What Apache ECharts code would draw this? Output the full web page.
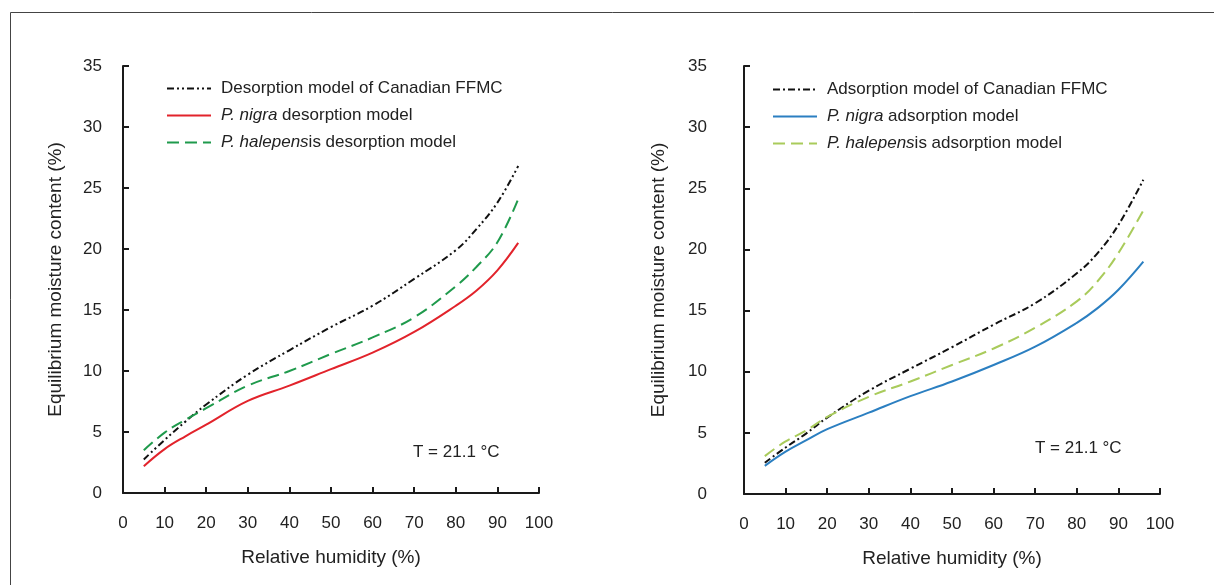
<!DOCTYPE html>
<html><head><meta charset="utf-8">
<script src="https://cdn.jsdelivr.net/npm/echarts@6/dist/echarts.min.js"></script>
<style>html,body{margin:0;padding:0;background:#fff}#c{width:1214px;height:585px}</style>
</head><body><div id="c"></div>
<script>
// Relative humidity (%) sample points
const rhDes = [5, 10, 15, 20, 30, 40, 50, 60, 70, 80, 85, 90, 95];
const rhAds = [5, 10, 15, 20, 30, 40, 50, 60, 70, 80, 85, 90, 96];
// Desorption (left panel)
const desFFMC = [2.75, 4.35, 5.85, 7.25, 9.7, 11.7, 13.6, 15.35, 17.55, 19.9, 21.65, 23.8, 26.8];
const desNigra = [2.2, 3.6, 4.65, 5.6, 7.55, 8.8, 10.15, 11.5, 13.2, 15.35, 16.6, 18.25, 20.5];
const desHalep = [3.5, 4.95, 6.0, 6.95, 8.8, 10.0, 11.4, 12.75, 14.4, 16.95, 18.55, 20.55, 24.1];
// Adsorption (right panel)
const adsFFMC = [2.56, 3.8, 4.96, 6.25, 8.45, 10.25, 12.0, 13.85, 15.6, 18.05, 19.7, 22.0, 25.7];
const adsNigra = [2.3, 3.46, 4.4, 5.3, 6.65, 8.0, 9.2, 10.55, 12.05, 14.0, 15.2, 16.7, 19.0];
const adsHalep = [3.1, 4.3, 5.2, 6.3, 7.95, 9.2, 10.55, 11.9, 13.6, 15.75, 17.4, 19.7, 23.2];
const xTicks = [0, 10, 20, 30, 40, 50, 60, 70, 80, 90, 100];
const yTicks = [0, 5, 10, 15, 20, 25, 30, 35];

const pair = (xs, ys) => xs.map((x, i) => [x, ys[i]]);
const FONT = 'Liberation Sans, Arial, sans-serif';
const axisCol = '#1a1a1a';
const txtCol = '#222';

function xAxis(idx) {
  return {
    gridIndex: idx, type: 'value', min: xTicks[0], max: xTicks[xTicks.length - 1], interval: xTicks[1] - xTicks[0],
    name: 'Relative humidity (%)', nameLocation: 'middle', nameGap: 55,
    nameTextStyle: { fontFamily: FONT, fontSize: 19, color: txtCol },
    axisLine: { show: true, lineStyle: { color: axisCol, width: 2 } },
    axisTick: { show: true, inside: true, length: 6, lineStyle: { color: axisCol, width: 2 } },
    axisLabel: { fontFamily: FONT, fontSize: 17, color: txtCol, margin: 22 },
    splitLine: { show: false }
  };
}
function yAxis(idx, labelMargin, nameGap) {
  return {
    gridIndex: idx, type: 'value', min: yTicks[0], max: yTicks[yTicks.length - 1], interval: yTicks[1] - yTicks[0],
    name: 'Equilibrium moisture content (%)', nameLocation: 'middle', nameGap, nameRotate: 90,
    nameTextStyle: { fontFamily: FONT, fontSize: 19, color: txtCol },
    axisLine: { show: true, lineStyle: { color: axisCol, width: 2 } },
    axisTick: { show: true, inside: true, length: 6, lineStyle: { color: axisCol, width: 2 } },
    axisLabel: { fontFamily: FONT, fontSize: 17, color: txtCol, margin: labelMargin },
    splitLine: { show: false }
  };
}
function line(name, data, idx, color, type) {
  return {
    name, type: 'line', xAxisIndex: idx, yAxisIndex: idx, data, smooth: 0.4,
    symbol: 'none', lineStyle: { color, width: 2, type }, itemStyle: { color },
    emphasis: { disabled: true }
  };
}
const rich = { i: { fontStyle: 'italic', fontFamily: FONT, fontSize: 17, color: txtCol } };
const fmt = n => {
  if (n.startsWith('P. nigra')) return '{i|P. nigra}' + n.slice(8);
  if (n.startsWith('P. halepensis')) return '{i|P. halepens}' + n.slice(11);
  return n;
};
function legend(left, top, names) {
  return {
    orient: 'vertical', left, top, itemWidth: 44, itemHeight: 12, itemGap: 10,
    data: names,
    itemStyle: { opacity: 0 },
    textStyle: { fontFamily: FONT, fontSize: 17, color: txtCol, rich, padding: [0, 0, 0, 5] },
    formatter: fmt, selectedMode: false
  };
}
const chart = echarts.init(document.getElementById('c'), null, { renderer: 'canvas' });
chart.setOption({
  animation: false,
  backgroundColor: '#fff',
  grid: [
    { left: 123, top: 66, width: 416, height: 427 },
    { left: 744, top: 66, width: 416, height: 428 }
  ],
  xAxis: [xAxis(0), xAxis(1)],
  yAxis: [yAxis(0, 21, 58), yAxis(1, 37, 76)],
  legend: [
    legend(161, 75, ['Desorption model of Canadian FFMC', 'P. nigra desorption model', 'P. halepensis desorption model']),
    legend(767, 76, ['Adsorption model of Canadian FFMC', 'P. nigra adsorption model', 'P. halepensis adsorption model'])
  ],
  series: [
    line('Desorption model of Canadian FFMC', pair(rhDes, desFFMC), 0, '#111', [7, 3, 2, 3, 2, 3]),
    line('P. nigra desorption model', pair(rhDes, desNigra), 0, '#e2232b', 'solid'),
    line('P. halepensis desorption model', pair(rhDes, desHalep), 0, '#1f9a4c', [12, 6]),
    line('Adsorption model of Canadian FFMC', pair(rhAds, adsFFMC), 1, '#111', [7, 3, 2, 3]),
    line('P. nigra adsorption model', pair(rhAds, adsNigra), 1, '#2b7fc1', 'solid'),
    line('P. halepensis adsorption model', pair(rhAds, adsHalep), 1, '#a9cb5b', [12, 6])
  ],
  graphic: [
    { type: 'rect', left: 8, top: 10, shape: { width: 1230, height: 600 }, style: { fill: 'none', stroke: '#444', lineWidth: 1 }, silent: true, z: -1 },
    { type: 'text', left: 413, top: 444, style: { text: 'T = 21.1 °C', fontFamily: FONT, fontSize: 17, fill: txtCol } },
    { type: 'text', left: 1035, top: 440, style: { text: 'T = 21.1 °C', fontFamily: FONT, fontSize: 17, fill: txtCol } }
  ]
});
</script></body></html>
